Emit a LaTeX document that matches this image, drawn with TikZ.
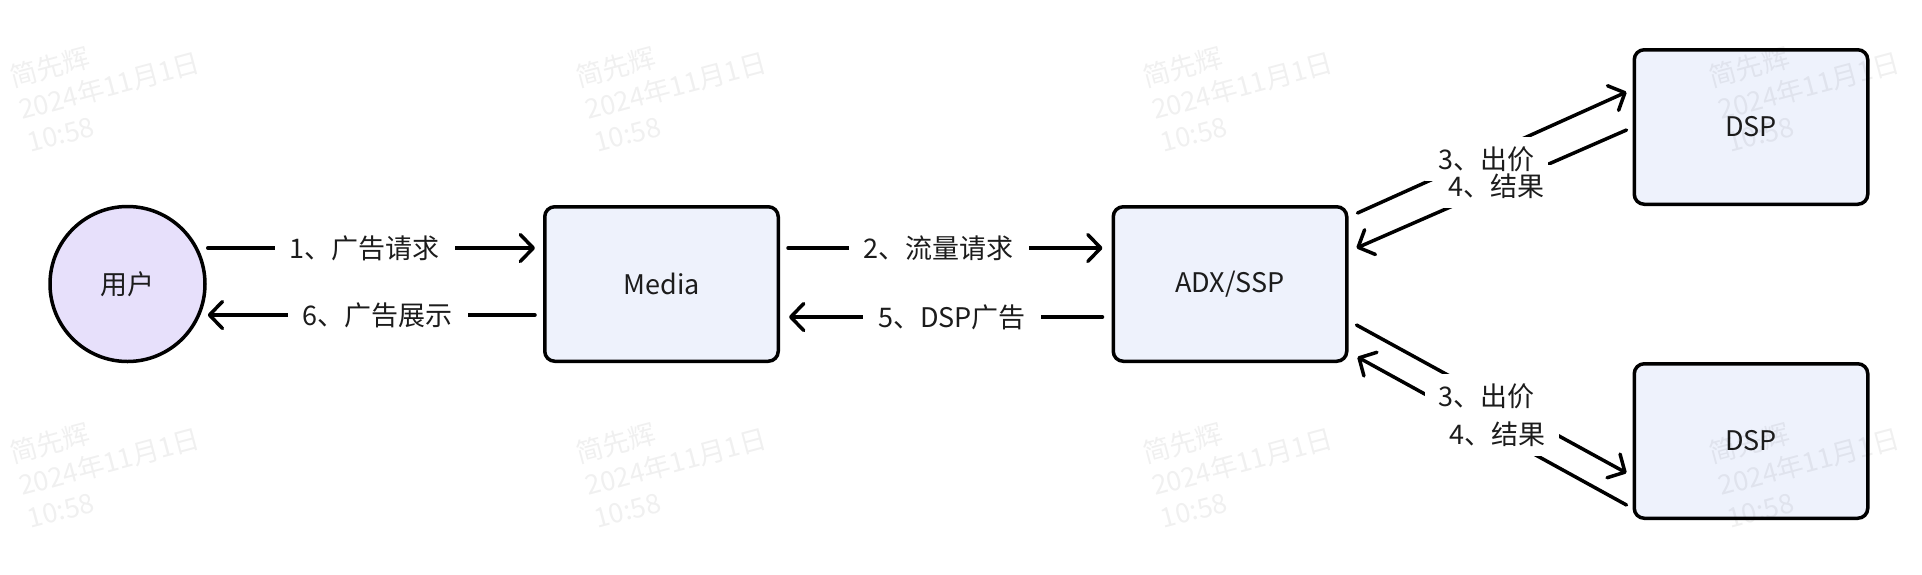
\documentclass[tikz,border=0pt]{standalone}
\usepackage{fontspec}
\setmainfont{Noto Sans CJK SC}
\usetikzlibrary{arrows.meta,calc}
\definecolor{userfill}{HTML}{E7E0FB}
\definecolor{boxfill}{HTML}{EEF2FC}
\definecolor{ink}{HTML}{1C1C1C}
\pgfdeclarelayer{blank}
\pgfdeclarelayer{front}
\pgfsetlayers{main,blank,front}
\begin{document}
\begin{tikzpicture}[x=1pt,y=-1pt,
  every node/.style={font=\fontsize{27}{32}\selectfont, text=ink},
  user/.style={circle, draw=black, line width=3.5pt, fill=userfill, minimum size=155pt, inner sep=0pt},
  blk/.style={rectangle, rounded corners=10pt, draw=black, line width=3.5pt, fill=boxfill, minimum width=233.5pt, minimum height=154.5pt},
  conn/.style={draw=black, line width=3.5pt, line cap=round, -{Straight Barb[length=13pt,width=27pt,round]}},
  lab/.style={fill=white, inner xsep=15pt, inner ysep=3pt},
  dlab/.style={inner xsep=13pt, inner ysep=9pt},
  wm/.style={align=left, rotate=15, inner sep=0pt, text=black, text opacity=0.06,
    font=\fontsize{27}{34}\selectfont}
]
\useasboundingbox[fill=white] (0,0) rectangle (1922,574);

% nodes
\node[user] (u)  at (127.5,284) {用户};
\node[blk]  (m)  at (661.5,284) {Media};
\node[blk]  (a)  at (1230,284)  {ADX/SSP};
\node[blk]  (d1) at (1751,127)  {DSP};
\node[blk]  (d2) at (1751,441)  {DSP};

% horizontal connectors
\draw[conn] ($(u.east)+(1,-36)$) -- node[lab,pos=0.48] {1、广告请求} ($(m.west)+(-8,-36)$);
\draw[conn] ($(m.west)+(-8,31)$) -- node[lab,pos=0.48] {6、广告展示} ($(u.east)+(1,31)$);
\draw[conn] ($(m.east)+(8,-36)$) -- node[lab,pos=0.48] {2、流量请求} ($(a.west)+(-9,-36)$);
\draw[conn] ($(a.west)+(-9,33)$) -- node[lab,pos=0.48] {5、DSP广告} ($(m.east)+(9,33)$);

% diagonal connectors
\draw[conn] ($(a.east)+(9,-71)$) -- coordinate[pos=0.48] (lA) ($(d1.west)+(-6,-35)$);
\draw[conn] ($(d1.west)+(-6,3)$) -- coordinate[pos=0.48] (lB) ($(a.east)+(8,-36)$);
\draw[conn] ($(a.east)+(8,41)$) -- coordinate[pos=0.48] (lC) ($(d2.west)+(-6,32)$);
\draw[conn] ($(d2.west)+(-6,64)$) -- coordinate[pos=0.48] (lD) ($(a.east)+(9,73)$);

\begin{pgfonlayer}{front}
\node[dlab] (tA) at ($(lA)+(0,4)$) {3、出价};
\node[dlab] (tB) at (lB) {4、结果};
\node[dlab] (tC) at (lC) {3、出价};
\node[dlab] (tD) at (lD) {4、结果};
\end{pgfonlayer}
\begin{pgfonlayer}{blank}
\foreach \t in {tA,tB,tC,tD} {
  \fill[white] (\t.south west) rectangle (\t.north east);
}
\end{pgfonlayer}

% watermarks
\begin{pgfonlayer}{front}
\foreach \cx in {0,1,2,3} {
  \foreach \cy in {0,1} {
    \node[wm] (wm-\cx-\cy) at (109+566.5*\cx, 85+376*\cy) {简先辉\\2024年11月1日\\10:58};
  }
}
\end{pgfonlayer}
\end{tikzpicture}
\end{document}
